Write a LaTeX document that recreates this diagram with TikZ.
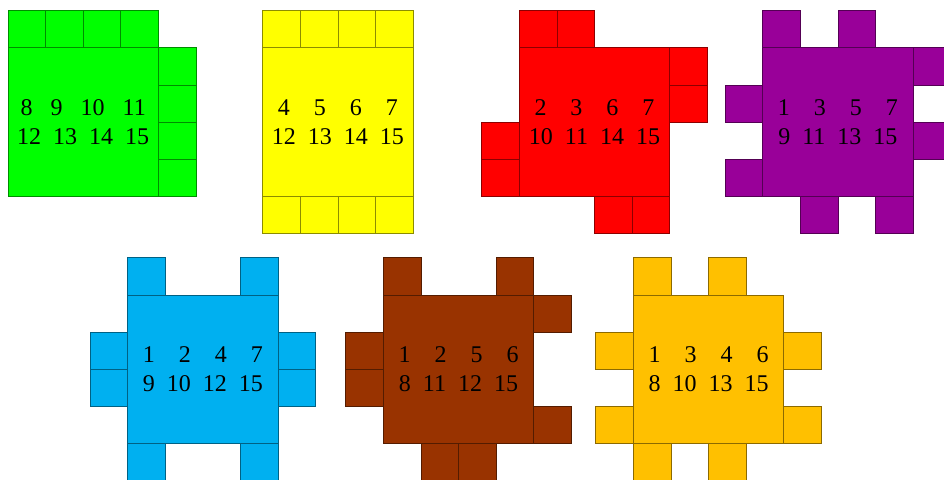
\documentclass[tikz,border=0pt]{standalone}
\usepackage{fontspec}
\setmainfont{Liberation Serif}
\definecolor{tileGreen}{HTML}{00FF00}
\definecolor{tileYellow}{HTML}{FFFF00}
\definecolor{tileRed}{HTML}{FF0000}
\definecolor{tilePurple}{HTML}{990099}
\definecolor{tileBlue}{HTML}{00B0F0}
\definecolor{tileBrown}{HTML}{993300}
\definecolor{tileGold}{HTML}{FFC000}

\begin{document}
\begin{tikzpicture}[x=1pt, y=-1pt,
    cell/.style={fill=#1, draw=#1!55!black, line width=0.75pt},
    nums/.style={align=center, inner sep=0pt, font=\fontsize{24}{28.6}\selectfont}]
    \useasboundingbox (0,0) rectangle (944,479);
    \clip (0,0) rectangle (944,479);
    % top row
    \begin{scope}[shift={(8,47.7)}, x=37.6pt, y=-37.2pt]
        \draw[cell=tileGreen] (0,0) rectangle (4,4);
        \foreach \i in {0,...,3} {
            \draw[cell=tileGreen] (\i,-1) rectangle ++(1,1);
            \draw[cell=tileGreen] (4,\i) rectangle ++(1,1);
        }
        \node[nums] (greenNums) at (2,2) {8~~~9~~~10~~~11\\12~~13~~14~~15};
    \end{scope}
    \begin{scope}[shift={(262.7,47.7)}, x=37.6pt, y=-37.2pt]
        \draw[cell=tileYellow] (0,0) rectangle (4,4);
        \foreach \i in {0,...,3} {
            \draw[cell=tileYellow] (\i,-1) rectangle ++(1,1);
            \draw[cell=tileYellow] (\i,4) rectangle ++(1,1);
        }
        \node[nums] (yellowNums) at (2,2) {4~~~~5~~~~6~~~~7\\12~~13~~14~~15};
    \end{scope}
    \begin{scope}[shift={(519.3,47.7)}, x=37.6pt, y=-37.2pt]
        \draw[cell=tileRed] (0,0) rectangle (4,4);
        \foreach \i in {0,1} {
            \draw[cell=tileRed] (\i,-1) rectangle ++(1,1);
            \draw[cell=tileRed] (4,\i) rectangle ++(1,1);
        }
        \foreach \i in {2,3} {
            \draw[cell=tileRed] (-1,\i) rectangle ++(1,1);
            \draw[cell=tileRed] (\i,4) rectangle ++(1,1);
        }
        \node[nums] (redNums) at (2,2) {2~~~~3~~~~6~~~~7\\10~~11~~14~~15};
    \end{scope}
    \begin{scope}[shift={(762.7,47.7)}, x=37.6pt, y=-37.2pt]
        \draw[cell=tilePurple] (0,0) rectangle (4,4);
        \foreach \i in {0,2} {
            \draw[cell=tilePurple] (\i,-1) rectangle ++(1,1);
            \draw[cell=tilePurple] (4,\i) rectangle ++(1,1);
        }
        \foreach \i in {1,3} {
            \draw[cell=tilePurple] (-1,\i) rectangle ++(1,1);
            \draw[cell=tilePurple] (\i,4) rectangle ++(1,1);
        }
        \node[nums] (purpleNums) at (2,2) {1~~~~3~~~~5~~~~7\\9~~11~~13~~15};
    \end{scope}
    % bottom row
    \begin{scope}[shift={(127.7,295)}, x=37.6pt, y=-37.2pt]
        \draw[cell=tileBlue] (0,0) rectangle (4,4);
        \foreach \i in {0,3} {
            \draw[cell=tileBlue] (\i,-1) rectangle ++(1,1);
            \draw[cell=tileBlue] (\i,4) rectangle ++(1,1);
        }
        \foreach \i in {1,2} {
            \draw[cell=tileBlue] (-1,\i) rectangle ++(1,1);
            \draw[cell=tileBlue] (4,\i) rectangle ++(1,1);
        }
        \node[nums] (blueNums) at (2,2) {1~~~~2~~~~4~~~~7\\9~~10~~12~~15};
    \end{scope}
    \begin{scope}[shift={(383.3,295)}, x=37.6pt, y=-37.2pt]
        \draw[cell=tileBrown] (0,0) rectangle (4,4);
        \foreach \i in {0,3} {
            \draw[cell=tileBrown] (\i,-1) rectangle ++(1,1);
            \draw[cell=tileBrown] (4,\i) rectangle ++(1,1);
        }
        \foreach \i in {1,2} {
            \draw[cell=tileBrown] (-1,\i) rectangle ++(1,1);
            \draw[cell=tileBrown] (\i,4) rectangle ++(1,1);
        }
        \node[nums] (brownNums) at (2,2) {1~~~~2~~~~5~~~~6\\8~~11~~12~~15};
    \end{scope}
    \begin{scope}[shift={(633.3,295)}, x=37.6pt, y=-37.2pt]
        \draw[cell=tileGold] (0,0) rectangle (4,4);
        \foreach \i in {0,2} {
            \draw[cell=tileGold] (\i,-1) rectangle ++(1,1);
            \draw[cell=tileGold] (\i,4) rectangle ++(1,1);
        }
        \foreach \i in {1,3} {
            \draw[cell=tileGold] (-1,\i) rectangle ++(1,1);
            \draw[cell=tileGold] (4,\i) rectangle ++(1,1);
        }
        \node[nums] (goldNums) at (2,2) {1~~~~3~~~~4~~~~6\\8~~10~~13~~15};
    \end{scope}
\end{tikzpicture}
\end{document}
